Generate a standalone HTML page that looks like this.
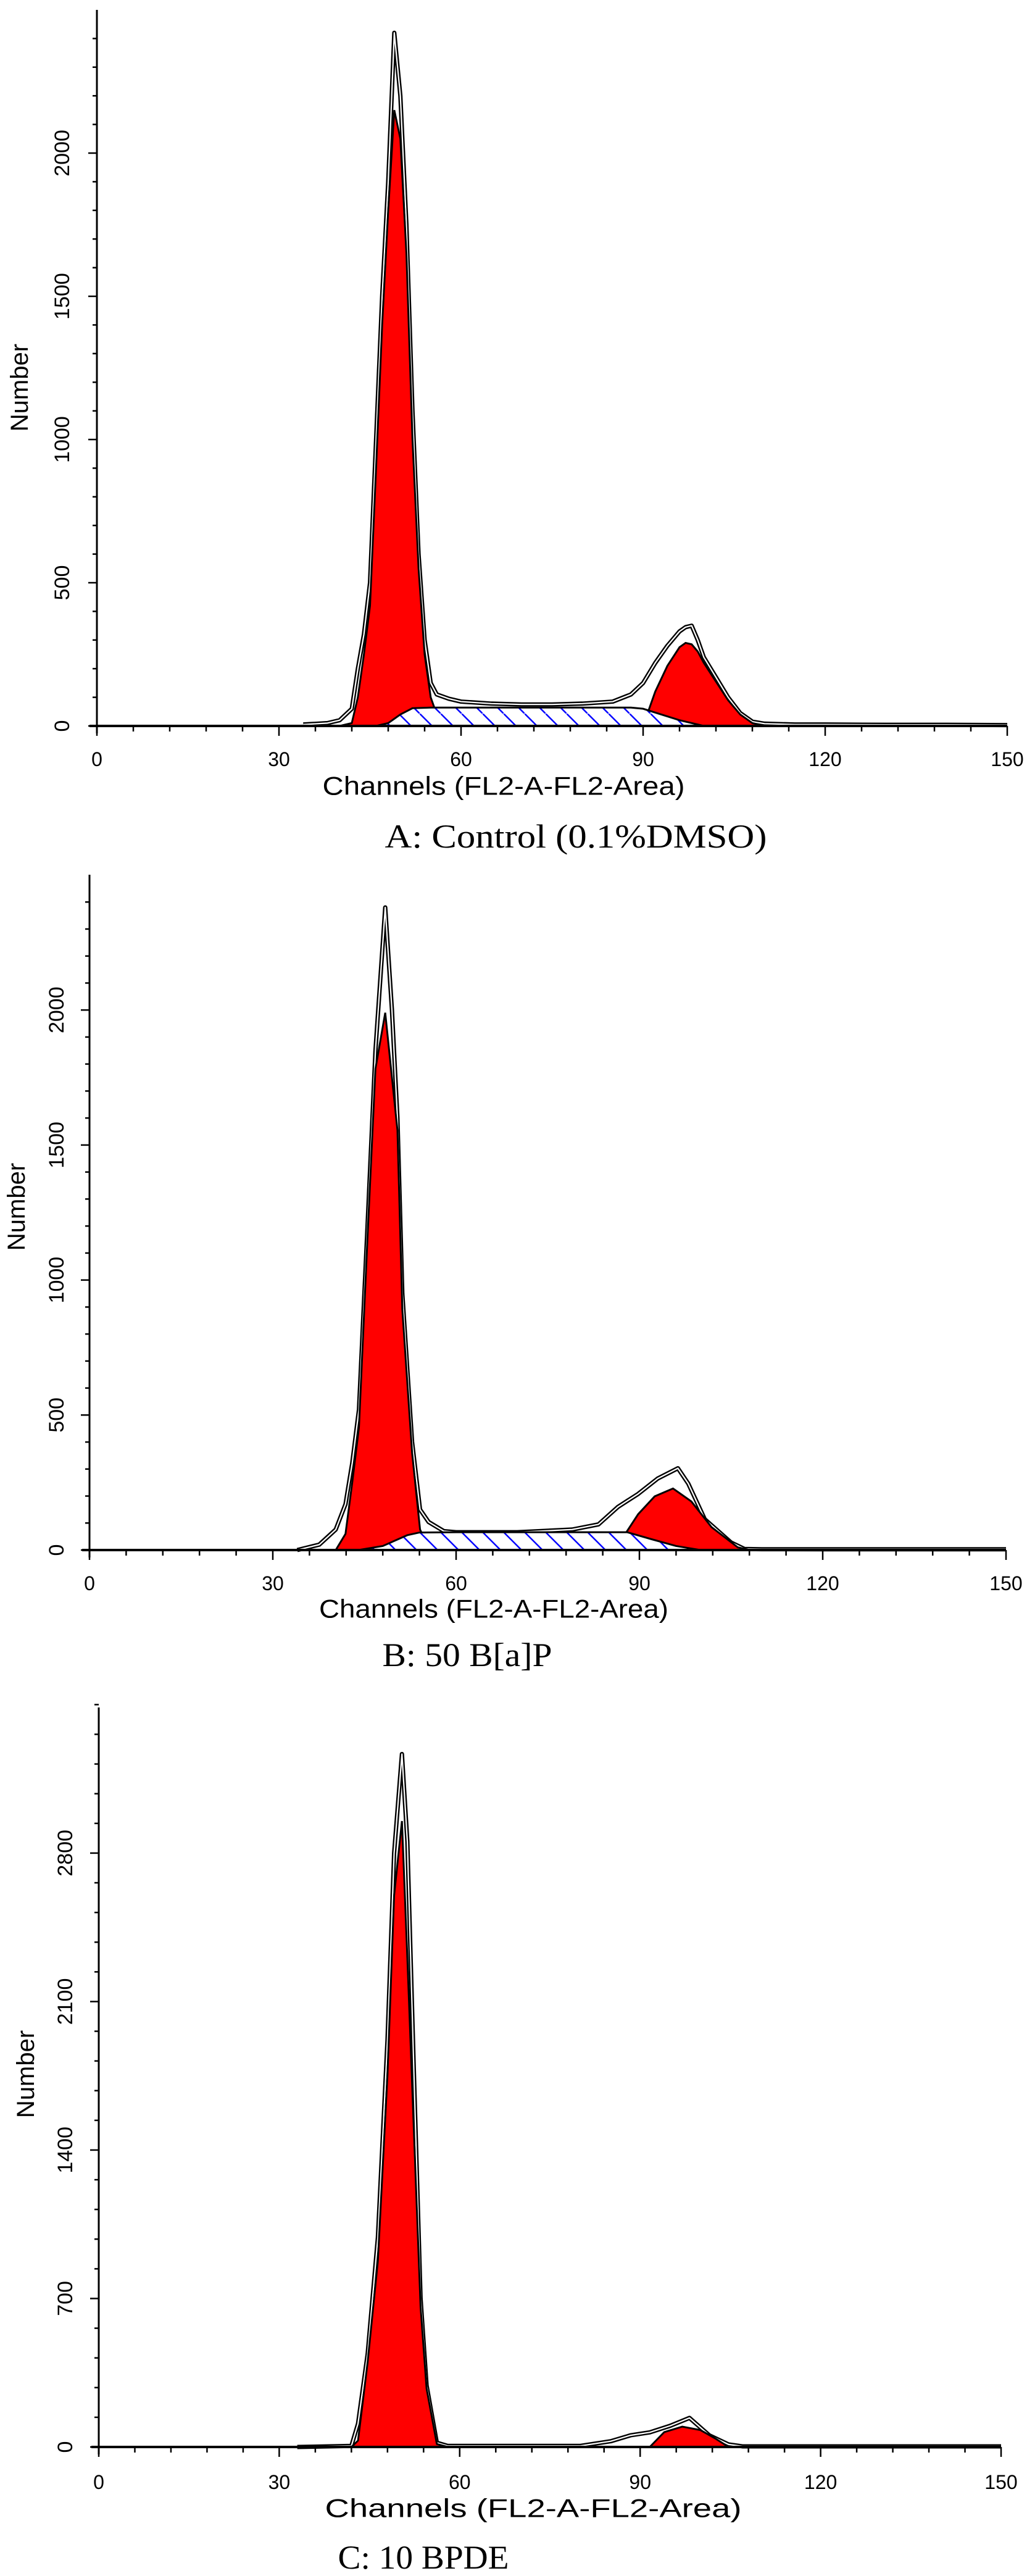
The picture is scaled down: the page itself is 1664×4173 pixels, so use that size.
<!DOCTYPE html>
<html><head><meta charset="utf-8"><style>
html,body{margin:0;padding:0;background:#fff;}
svg{display:block;}
</style></head><body>
<svg id="chart" width="1664" height="4173" viewBox="0 0 1664 4173" xmlns="http://www.w3.org/2000/svg">
<defs>
<pattern id="hatch" patternUnits="userSpaceOnUse" width="34" height="34">
<rect width="34" height="34" fill="#fff"/>
<line x1="0" y1="0" x2="34" y2="34" stroke="#0000ff" stroke-width="2.5"/>
</pattern>
</defs>
</svg>
<script>
// ---- Panel A data ----
const chA = [34,38,40,42,43,44,45,46,47,48,49,50,51,52,53,54,55,56,58,60,65,70,75,80,85,88,90,92,94,96,97,98,99,100,102,104,106,108,110,115,120,130,140,150];
const totalA = [5,10,20,60,200,320,500,1000,1500,1900,2420,2200,1750,1100,600,300,150,110,95,85,78,75,75,78,85,110,150,220,280,330,345,350,300,240,170,100,45,15,8,5,5,4,4,3];
const g1A = [0,0,0,10,100,250,420,900,1400,1800,2150,2050,1650,1000,550,250,100,40,5,0,0,0,0,0,0,0,0,0,0,0,0,0,0,0,0,0,0,0,0,0,0,0,0,0];
const g2ChA = [90,92,94,96,97,98,99,100,102,104,106,108,110];
const g2A = [0,120,210,275,290,285,260,220,155,90,40,10,0];
const sChA = [46,48,50,52,55,60,70,80,88,90,93,96,100];
const sA = [0,10,40,62,64,64,64,64,64,60,40,20,0];
const yTicksA = [0,500,1000,1500,2000];
const xTicks = [0,30,60,90,120,150];

// ---- Panel B data ----
const chB = [34,37.6,40.3,41.9,43,44.1,45.5,46.8,48.4,49.5,50.4,51.2,52.8,54.1,55.5,58,60,70,79,83.3,86.5,89.8,93,96.3,98,100.7,105,107.2,110,120,130,140,150];
const totalB = [0,20,76,170,322,520,1200,1850,2380,2000,1600,950,400,150,104,70,66,66,76,95,160,208,265,303,246,114,28,4,3,3,3,3,3];
const g1B = [0,0,0,60,250,455,1157,1782,1990,1750,1555,890,360,76,10,0,0,0,0,0,0,0,0,0,0,0,0,0,0,0,0,0,0];
const g2ChB = [87.6,89.8,92.5,95.5,98.5,101.8,106.1,108];
const g2B = [57,133,199,228,180,85,10,0];
const sChB = [44,48,52,54,60,70,80,88,92,96,100];
const sB = [0,15,55,65,66,66,66,66,40,15,0];
const yTicksB = [0,500,1000,1500,2000];

// ---- Panel C data ----
const chC = [33,42,43.1,44.7,46.4,48,49.1,50.4,51.3,52.4,53.5,54.5,56.2,58,70,80,85.1,88.4,91.6,95,98.2,101.5,104.7,107,115,130,150];
const totalC = [0,5,110,439,988,1921,2800,3267,2855,1757,700,290,20,5,5,5,27,55,69,100,137,55,12,3,3,3,3];
const g1C = [0,0,30,400,878,1757,2600,2951,2306,1482,659,275,14,0,0,0,0,0,0,0,0,0,0,0,0,0,0];
const g2ChC = [91.6,94,97,100,102.5,104.7];
const g2C = [0,70,96,80,40,0];
const yTicksC = [0,700,1400,2100,2800];

const svg = document.getElementById('chart');
const NS = 'http://www.w3.org/2000/svg';
function mk(tag, attrs, parent){
  const e = document.createElementNS(NS, tag);
  for (const k in attrs) e.setAttribute(k, attrs[k]);
  (parent||svg).appendChild(e);
  return e;
}

const panels = [
  {id:'a', x0:157, x1:1632, y0:1176, ppu:0.464, top:16, yMax:2450, minor:100, tickX:101, numX:32, numY:628,
   ch:chA, total:totalA, g1:g1A, g2ch:g2ChA, g2:g2A, sch:sChA, s:sA, yt:yTicksA,
   xlabY:1230, chanX:816, chanY:1273, chanW:587, title:'A: Control (0.1%DMSO)', titleX:933, titleY:1355, titleW:619},
  {id:'b', x0:145, x1:1630, y0:2511, ppu:0.4374, top:1417, yMax:2420, minor:100, tickX:92, numX:27, numY:1955,
   ch:chB, total:totalB, g1:g1B, g2ch:g2ChB, g2:g2B, sch:sChB, s:sB, yt:yTicksB,
   xlabY:2565, chanX:800, chanY:2606, chanW:566, title:'B: 50 B[a]P', titleX:757, titleY:2681, titleW:275},
  {id:'c', x0:160, x1:1622, y0:3964, ppu:0.3436, top:2766, yMax:3500, minor:140, tickX:106, numX:42, numY:3360,
   ch:chC, total:totalC, g1:g1C, g2ch:g2ChC, g2:g2C, sch:null, s:null, yt:yTicksC,
   xlabY:4021, chanX:864, chanY:4063, chanW:675, title:'C: 10 BPDE', titleX:686, titleY:4143, titleW:277}
];

panels.forEach(p => {
  const g = mk('g', {});
  
  
  const X = c => p.x0 + (p.x1 - p.x0) * c / 150;
  const Y = v => p.y0 - v * p.ppu;
  const area = (chs, vals) => {
    let pts = X(chs[0]) + ',' + p.y0 + ' ';
    chs.forEach((c,i) => { pts += X(c) + ',' + Y(vals[i]) + ' '; });
    pts += X(chs[chs.length-1]) + ',' + p.y0;
    return pts;
  };
  const line = (chs, vals) => chs.map((c,i) => X(c) + ',' + Y(vals[i])).join(' ');

  // envelope outline (double line look)
  const envB = mk('polyline', {points: line(p.ch, p.total), fill:'none', stroke:'#000', 'stroke-width':7, 'stroke-linejoin':'round'}, g);
  
  
  const envW = mk('polyline', {points: line(p.ch, p.total), fill:'none', stroke:'#fff', 'stroke-width':2.2, 'stroke-linejoin':'round'}, g);
  
  

  const g1 = mk('polygon', {points: area(p.ch, p.g1), fill:'#ff0000', stroke:'#000', 'stroke-width':3}, g);
  
  
  const g2 = mk('polygon', {points: area(p.g2ch, p.g2), fill:'#ff0000', stroke:'#000', 'stroke-width':3}, g);
  
  
  if (p.sch) {
    const s = mk('polygon', {points: area(p.sch, p.s), fill:'url(#hatch)', stroke:'#000', 'stroke-width':3}, g);
    
    
  }

  // axes
  const ya = mk('line', {x1:p.x0, y1:p.top, x2:p.x0, y2:p.y0 + 12, stroke:'#000', 'stroke-width':3}, g);
  
  
  const xa = mk('line', {x1:p.x0 - 12, y1:p.y0, x2:p.x1, y2:p.y0, stroke:'#000', 'stroke-width':4}, g);
  
  
  for (let v = 0; v <= p.yMax; v += p.minor) {
    const major = p.yt.indexOf(v) >= 0;
    mk('line', {x1:p.x0 - (major ? 14 : 7), y1:Y(v), x2:p.x0, y2:Y(v), stroke:'#000', 'stroke-width':2.5}, g);
  }
  for (let c = 0; c <= 150; c += 6) {
    const major = c % 30 === 0;
    mk('line', {x1:X(c), y1:p.y0, x2:X(c), y2:p.y0 + (major ? 16 : 9), stroke:'#000', 'stroke-width':2.5}, g);
  }
  p.yt.forEach(v => {
    const t = mk('text', {x:p.tickX, y:Y(v), transform:'rotate(-90 ' + p.tickX + ' ' + Y(v) + ')', 'text-anchor':'middle', 'dominant-baseline':'central', 'font-family':'Liberation Sans, sans-serif', 'font-size':34, fill:'#000'}, g);
    t.textContent = v;
    
    
  });
  xTicks.forEach(c => {
    const t = mk('text', {x:X(c), y:p.xlabY, 'text-anchor':'middle', 'dominant-baseline':'central', 'font-family':'Liberation Sans, sans-serif', 'font-size':32, fill:'#000'}, g);
    t.textContent = c;
    
    
  });
  const nt = mk('text', {x:p.numX, y:p.numY, transform:'rotate(-90 ' + p.numX + ' ' + p.numY + ')', 'text-anchor':'middle', 'dominant-baseline':'central', 'font-family':'Liberation Sans, sans-serif', 'font-size':40, fill:'#000'}, g);
  nt.textContent = 'Number';
  
  
  const ct = mk('text', {x:p.chanX, y:p.chanY, 'text-anchor':'middle', 'dominant-baseline':'central', 'font-family':'Liberation Sans, sans-serif', 'font-size':42, textLength:p.chanW, lengthAdjust:'spacingAndGlyphs', fill:'#000'}, g);
  ct.textContent = 'Channels (FL2-A-FL2-Area)';
  
  
  const tt = mk('text', {x:p.titleX, y:p.titleY, 'text-anchor':'middle', 'dominant-baseline':'central', 'font-family':'Liberation Serif, serif', 'font-size':54, textLength:p.titleW, lengthAdjust:'spacingAndGlyphs', fill:'#000'}, g);
  tt.textContent = p.title;
  
  
});
</script>
</body></html>
